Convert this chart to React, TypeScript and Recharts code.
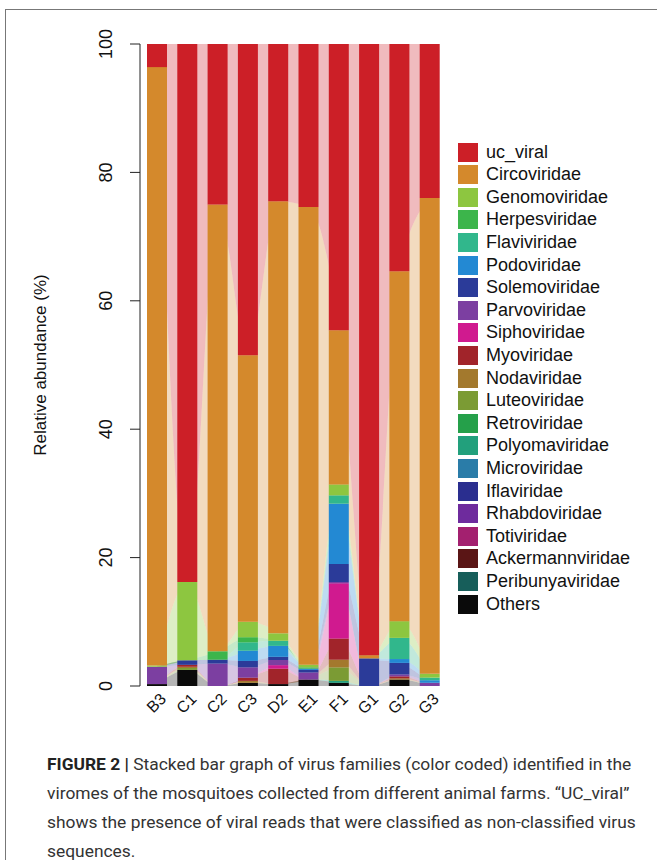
import React from "react";
import { ComposedChart, Bar, Area, XAxis, YAxis } from "recharts";

// samples along the x axis
const samples = ["B3", "C1", "C2", "C3", "D2", "E1", "F1", "G1", "G2", "G3"];

// legend order (top of the stack first)
const families = [
  "uc_viral",
  "Circoviridae",
  "Genomoviridae",
  "Herpesviridae",
  "Flaviviridae",
  "Podoviridae",
  "Solemoviridae",
  "Parvoviridae",
  "Siphoviridae",
  "Myoviridae",
  "Nodaviridae",
  "Luteoviridae",
  "Retroviridae",
  "Polyomaviridae",
  "Microviridae",
  "Iflaviridae",
  "Rhabdoviridae",
  "Totiviridae",
  "Ackermannviridae",
  "Peribunyaviridae",
  "Others",
];

const colors = [
  "#cc1f27",
  "#d4892c",
  "#8dc640",
  "#3cb54b",
  "#31b78c",
  "#2389d3",
  "#2b3b99",
  "#7c3fa1",
  "#d01a8f",
  "#a1242a",
  "#a3792d",
  "#7b9b34",
  "#25a04a",
  "#22a07c",
  "#2a7ca8",
  "#2a2e8f",
  "#6e2b9d",
  "#a3206f",
  "#5a1515",
  "#175e5a",
  "#0a0a0a",
];

// relative abundance (%) per sample, B3 .. G3
const ucViral = [3.6, 83.8, 25.0, 48.5, 24.5, 25.4, 44.6, 95.2, 35.4, 24.0];
const circoviridae = [93.2, 0, 69.6, 41.5, 67.3, 71.3, 24.0, 0.5, 54.5, 74.1];
const genomoviridae = [0.2, 12.2, 0, 2.4, 1.15, 0.4, 1.7, 0, 2.6, 0.6];
const herpesviridae = [0, 0, 1.3, 0.8, 0, 0.2, 0, 0, 0, 0];
const flaviviridae = [0, 0, 0, 1.3, 0.8, 0, 1.3, 0, 3.3, 0.4];
const podoviridae = [0, 0, 0, 1.6, 1.7, 0.2, 9.4, 0, 0.6, 0.4];
const solemoviridae = [0, 0.7, 0.6, 1.0, 0.5, 0.4, 2.8, 4.3, 1.8, 0];
const parvoviridae = [2.7, 0, 3.5, 1.6, 0.8, 1.1, 0.2, 0, 0.3, 0.5];
const siphoviridae = [0, 0, 0, 0, 0.55, 0, 8.6, 0, 0, 0];
const myoviridae = [0, 0.3, 0, 0.5, 2.4, 0, 3.3, 0, 0.3, 0];
const nodaviridae = [0, 0.2, 0, 0.3, 0, 0, 1.2, 0, 0.2, 0];
const luteoviridae = [0, 0.3, 0, 0, 0, 0, 2.1, 0, 0, 0];
const retroviridae = [0, 0, 0, 0, 0, 0, 0, 0, 0, 0];
const polyomaviridae = [0, 0, 0, 0, 0, 0, 0.3, 0, 0, 0];
const microviridae = [0, 0, 0, 0, 0, 0, 0, 0, 0, 0];
const iflaviridae = [0, 0, 0, 0, 0, 0, 0, 0, 0, 0];
const rhabdoviridae = [0, 0, 0, 0, 0, 0, 0, 0, 0, 0];
const totiviridae = [0, 0, 0, 0, 0, 0, 0, 0, 0, 0];
const ackermannviridae = [0, 0, 0, 0, 0, 0, 0, 0, 0, 0];
const peribunyaviridae = [0, 0, 0, 0, 0, 0, 0, 0, 0, 0];
const others = [0.3, 2.5, 0, 0.5, 0.3, 1.0, 0.5, 0, 1.0, 0];

const yTicks = [0, 20, 40, 60, 80, 100];

const series = [
  ucViral,
  circoviridae,
  genomoviridae,
  herpesviridae,
  flaviviridae,
  podoviridae,
  solemoviridae,
  parvoviridae,
  siphoviridae,
  myoviridae,
  nodaviridae,
  luteoviridae,
  retroviridae,
  polyomaviridae,
  microviridae,
  iflaviridae,
  rhabdoviridae,
  totiviridae,
  ackermannviridae,
  peribunyaviridae,
  others,
];

const data = samples.map((sample, i) => {
  const row: Record<string, number | string> = { sample };
  families.forEach((f, j) => {
    row[f] = series[j][i];
  });
  return row;
});

// bottom of the stack first
const stackOrder = families.map((_, j) => j).reverse();

const YTick = (props: any) => {
  const { x, y, payload } = props;
  return (
    <text
      transform={`translate(${x},${y}) rotate(-90)`}
      textAnchor="middle"
      fontSize={18}
      fill="#111"
      fontFamily="'Liberation Sans', Arial, sans-serif"
    >
      {payload.value}
    </text>
  );
};

const XTick = (props: any) => {
  const { x, payload } = props;
  return (
    <text
      transform={`translate(${x + 10},700) rotate(-45)`}
      textAnchor="end"
      fontSize={16}
      fill="#111"
      fontFamily="'Liberation Sans', Arial, sans-serif"
    >
      {payload.value}
    </text>
  );
};

export default function App() {
  return (
    <div
      style={{
        position: "absolute",
        left: 0,
        top: 0,
        width: 657,
        height: 860,
        background: "#fff",
        overflow: "hidden",
      }}
    >
      <div
        style={{
          position: "absolute",
          left: 5,
          top: 9,
          width: 700,
          height: 900,
          border: "1px solid #777",
          boxSizing: "border-box",
        }}
      />
      <div style={{ position: "absolute", left: 0, top: 0 }}>
        <ComposedChart
          width={657}
          height={760}
          data={data}
          margin={{ top: 44, right: 212, bottom: 44, left: 80 }}
        >
          <XAxis
            dataKey="sample"
            axisLine={false}
            tickLine={false}
            tick={<XTick />}
            height={30}
            padding={{ left: 2, right: 0 }}
            interval={0}
          />
          <YAxis
            domain={[0, 100]}
            ticks={yTicks}
            width={60}
            tickSize={10}
            tickMargin={18}
            stroke="#222"
            axisLine={{ stroke: "#222" }}
            tickLine={{ stroke: "#222" }}
            tick={<YTick />}
            interval={0}
          />
          {stackOrder.map((j) => (
            <Area
              key={`a-${families[j]}`}
              type="monotone"
              dataKey={families[j]}
              stackId="flow"
              stroke="none"
              fill={colors[j]}
              fillOpacity={0.3}
              isAnimationActive={false}
              legendType="none"
              activeDot={false}
            />
          ))}
          {stackOrder.map((j) => (
            <Bar
              key={`b-${families[j]}`}
              dataKey={families[j]}
              stackId="bars"
              fill={colors[j]}
              barSize={20}
              isAnimationActive={false}
            />
          ))}
        </ComposedChart>
      </div>
      <div
        style={{
          position: "absolute",
          left: 32,
          top: 365,
          transform: "translate(-50%, -50%) rotate(-90deg)",
          fontFamily: "'Liberation Sans', Arial, sans-serif",
          fontSize: 17,
          color: "#111",
          whiteSpace: "nowrap",
          lineHeight: "17px",
          transformOrigin: "50% 50%",
          marginLeft: 8,
        }}
      >
        Relative abundance (%)
      </div>
      {families.map((f, i) => (
        <div
          key={f}
          style={{
            position: "absolute",
            left: 458,
            top: 142 + i * 22.6,
            height: 20,
            display: "flex",
            alignItems: "center",
            fontFamily: "'Liberation Sans', Arial, sans-serif",
            fontSize: 18,
            color: "#111",
            whiteSpace: "nowrap",
          }}
        >
          <span
            style={{
              display: "inline-block",
              width: 20,
              height: 19,
              background: colors[i],
              marginRight: 8,
            }}
          />
          {f}
        </div>
      ))}
      <div
        style={{
          position: "absolute",
          left: 47,
          top: 750,
          fontFamily: "Roboto, 'Liberation Sans', sans-serif",
          fontSize: 17.4,
          lineHeight: "29px",
          color: "#333",
          whiteSpace: "nowrap",
        }}
      >
        <div>
          <b style={{ color: "#222" }}>FIGURE 2 |</b> Stacked bar graph of virus families (color coded) identified in the
        </div>
        <div>viromes of the mosquitoes collected from different animal farms. “UC_viral”</div>
        <div>shows the presence of viral reads that were classified as non-classified virus</div>
        <div>sequences.</div>
      </div>
    </div>
  );
}
